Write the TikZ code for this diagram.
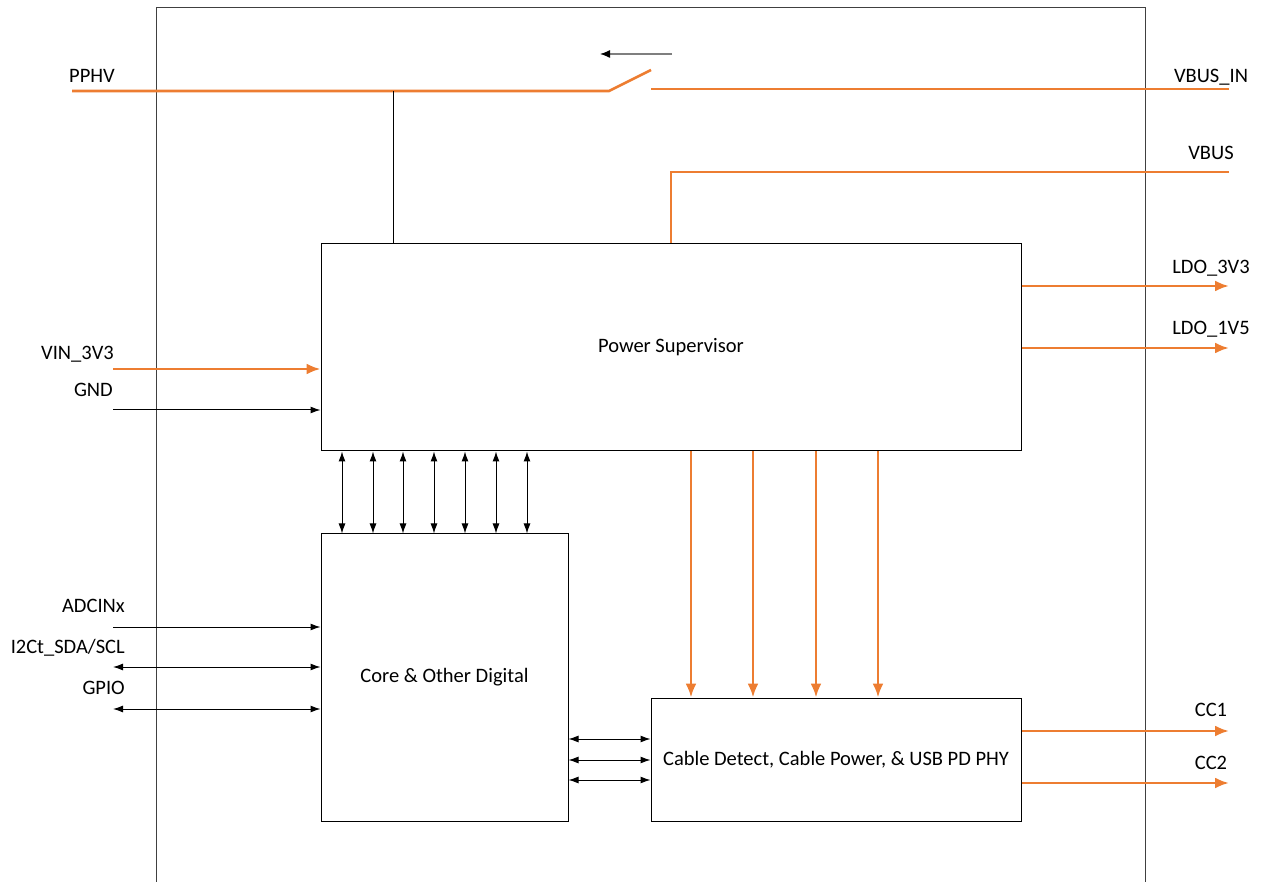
\documentclass[tikz,border=0pt]{standalone}
\usepackage{fontspec}
\setmainfont{Carlito}
\usetikzlibrary{arrows.meta}
\definecolor{org}{HTML}{ED7D31}
\definecolor{frame}{HTML}{404040}
\definecolor{ptr}{HTML}{7F7F7F}
\begin{document}
\begin{tikzpicture}[x=1pt,y=-1pt,
  box/.style={draw=black, line width=1pt, inner sep=0pt, font=\fontsize{20.5}{24}\selectfont},
  lbl/.style={inner sep=0pt, font=\fontsize{20.5}{24}\selectfont, text height=13.5pt, text depth=0pt},
  pw/.style={draw=org, line width=2.6pt},
  pwa/.style={pw, -{Latex[length=14pt,width=11pt]}},
  sig/.style={draw=black, line width=1pt, -{Latex[length=10pt,width=7pt]}},
  bisig/.style={draw=black, line width=1pt, {Latex[length=10pt,width=7pt]}-{Latex[length=10pt,width=7pt]}},
  thin/.style={draw=black, line width=1pt},
]
\useasboundingbox (0,0) rectangle (1262,882);
% outer frame (open at bottom)
\draw[frame, line width=1pt] (156,882) -- (156,8) -- (1145,8) -- (1145,882);

% blocks
\node[box, minimum width=700pt, minimum height=207pt] (ps) at (671,347.5) {Power Supervisor};
\node[box, minimum width=247pt, minimum height=287pt] (core) at (444.5,677.5) {Core \& Other Digital};
\node[box, minimum width=370pt, minimum height=123pt] (cab) at (836,759.5) {Cable Detect, Cable Power, \& USB PD PHY};

% labels
\node[lbl, anchor=east] (lpphv) at (115,76) {PPHV};
\node[lbl, anchor=east] (lvin) at (114,353) {VIN\_3V3};
\node[lbl, anchor=east] (lgnd) at (113,390) {GND};
\node[lbl, anchor=east] (ladc) at (125,606) {ADCINx};
\node[lbl, anchor=east] (li2c) at (125,647) {I2Ct\_SDA/SCL};
\node[lbl, anchor=east] (lgpio) at (125,688) {GPIO};
\node[lbl] (lvbusin) at (1211,76) {VBUS\_IN};
\node[lbl] (lvbus) at (1211,153) {VBUS};
\node[lbl] (lldo3) at (1211,267) {LDO\_3V3};
\node[lbl] (lldo1) at (1211,328) {LDO\_1V5};
\node[lbl] (lcc1) at (1211,710) {CC1};
\node[lbl] (lcc2) at (1211,763) {CC2};

% coordinates for free ends
\coordinate (pphvL) at (72,91);
\coordinate (sw1) at (609,91);
\coordinate (sw2) at (651,70);
\coordinate (sw3) at (651,89);
\coordinate (vbinR) at (1229,89);
\coordinate (tap) at (393,91);
\coordinate (vbusR) at (1229,172);
\coordinate (arS) at (672,54);
\coordinate (arE) at (600,54);
\coordinate (vinL) at (113,369);
\coordinate (gndL) at (113,410);
\coordinate (adcL) at (113,627);
\coordinate (i2cL) at (113,667);
\coordinate (gpioL) at (113,709);
\coordinate (ldo3R) at (1229,286);
\coordinate (ldo1R) at (1229,348);
\coordinate (cc1R) at (1229,731);
\coordinate (cc2R) at (1229,783);

% switch
\draw[pw] (pphvL) -- (sw1) -- (sw2);
\draw[pw] (sw3) -- (vbinR);
\draw[draw=ptr, line width=1.3pt, -{Latex[length=10pt,width=8pt,color=black]}] (arS) -- (arE);
\draw[thin] (tap) -- (ps.north -| tap);
\draw[pw] (vbusR) -| (ps.north);

% inputs to power supervisor
\draw[pwa] (vinL) -- (ps.west |- vinL);
\draw[sig] (gndL) -- (ps.west |- gndL);

% outputs of power supervisor
\draw[pwa] (ps.east |- ldo3R) -- (ldo3R);
\draw[pwa] (ps.east |- ldo1R) -- (ldo1R);

% bus between supervisor and core
\foreach \x [count=\i] in {342,373,403,434,465,496,527} {
  \coordinate (bx\i) at (\x,0);
  \draw[bisig] (ps.south -| bx\i) -- (core.north -| bx\i);
}

% supervisor to cable detect
\foreach \x [count=\i] in {691,753,816,878} {
  \coordinate (ox\i) at (\x,0);
  \draw[pwa] (ps.south -| ox\i) -- (cab.north -| ox\i);
}

% core inputs
\draw[sig] (adcL) -- (core.west |- adcL);
\draw[bisig] (i2cL) -- (core.west |- i2cL);
\draw[bisig] (gpioL) -- (core.west |- gpioL);

% core to cable
\foreach \y [count=\i] in {739,760,780} {
  \coordinate (cy\i) at (0,\y);
  \draw[bisig] (core.east |- cy\i) -- (cab.west |- cy\i);
}

% CC outputs
\draw[pwa] (cab.east |- cc1R) -- (cc1R);
\draw[pwa] (cab.east |- cc2R) -- (cc2R);
\end{tikzpicture}
\end{document}
